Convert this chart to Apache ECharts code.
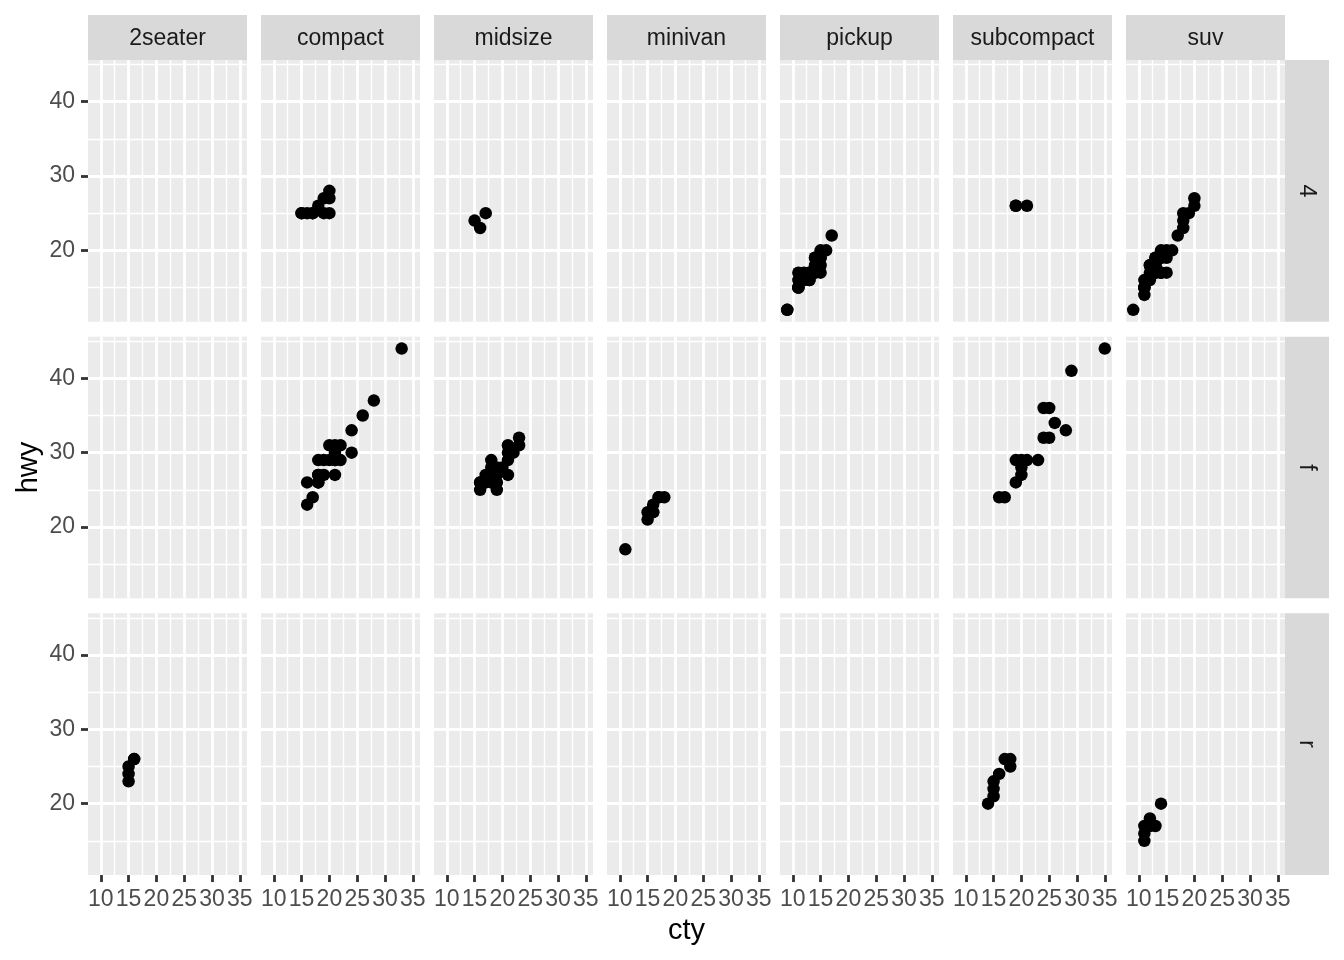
<!DOCTYPE html>
<html>
<head>
<meta charset="utf-8">
<script src="https://cdn.jsdelivr.net/npm/echarts@6.0.0/dist/echarts.min.js"></script>
<style>
html, body { margin: 0; padding: 0; background: #fff; }
#chart { width: 1344px; height: 960px; }
</style>
</head>
<body>
<div id="chart"></div>
<script>
// facets
const classes = ['2seater', 'compact', 'midsize', 'minivan', 'pickup', 'subcompact', 'suv'];
const drvs = ['4', 'f', 'r'];

// ticks
const xTicks = [10, 15, 20, 25, 30, 35];
const xMinor = [12.5, 17.5, 22.5, 27.5, 32.5];
const yTicks = [20, 30, 40];
const yMinor = [15, 25, 35, 45];

// [cty, hwy] for each panel
const compact4 = [[18, 26], [16, 25], [20, 28], [19, 27], [15, 25], [17, 25], [17, 25], [15, 25], [19, 25], [20, 27], [20, 25]];
const midsize4 = [[15, 24], [17, 25], [16, 23]];
const pickup4 = [[15, 19], [14, 18], [13, 17], [14, 17], [14, 19], [14, 19], [9, 12], [11, 17], [11, 15], [11, 15],
  [13, 17], [12, 16], [9, 12], [13, 17], [12, 16], [11, 15], [11, 16], [13, 16], [14, 17], [13, 16], [15, 20],
  [16, 20], [15, 19], [17, 22], [15, 17], [15, 18], [12, 17]];
const subcompact4 = [[21, 26], [19, 26], [19, 26]];
const suv4 = [[14, 19], [11, 14], [11, 15], [14, 17], [13, 17], [12, 16], [11, 15], [13, 18], [12, 17], [9, 12],
  [13, 17], [14, 17], [13, 19], [13, 19], [13, 17], [15, 20], [14, 19], [13, 18], [11, 15], [12, 18], [14, 17],
  [15, 17], [14, 20], [12, 18], [18, 25], [18, 24], [20, 27], [19, 25], [20, 26], [18, 23], [17, 22], [16, 20],
  [15, 19], [11, 16]];
const compactF = [[18, 29], [21, 29], [20, 31], [21, 30], [16, 26], [18, 26], [18, 27], [21, 29], [21, 27], [21, 31],
  [22, 31], [18, 26], [18, 27], [24, 30], [24, 33], [26, 35], [28, 37], [19, 29], [22, 29], [17, 24], [33, 44],
  [16, 23], [19, 27], [20, 29]];
const midsizeF = [[19, 27], [22, 30], [18, 26], [18, 29], [17, 26], [18, 27], [21, 30], [21, 31], [19, 28], [21, 29],
  [23, 31], [23, 32], [19, 26], [19, 25], [16, 26], [17, 27], [18, 28], [16, 25], [21, 27], [20, 28], [16, 26]];
const minivanF = [[18, 24], [17, 24], [16, 22], [16, 22], [17, 24], [11, 17], [15, 22], [15, 21], [16, 23]];
const subcompactF = [[35, 44], [29, 41], [25, 36], [24, 36], [26, 34], [28, 33], [24, 32], [25, 32], [23, 29],
  [21, 29], [20, 29], [19, 29], [20, 28], [20, 27], [19, 26], [16, 24], [17, 24]];
const twoseaterR = [[16, 26], [15, 23], [16, 26], [15, 25], [15, 24]];
const subcompactR = [[18, 26], [18, 25], [17, 26], [16, 24], [15, 21], [15, 22], [15, 23], [14, 20]];
const suvR = [[14, 20], [11, 15], [13, 17], [12, 17], [11, 17], [12, 18], [11, 16]];

const panelData = {
  'compact|4': compact4, 'midsize|4': midsize4, 'pickup|4': pickup4, 'subcompact|4': subcompact4, 'suv|4': suv4,
  'compact|f': compactF, 'midsize|f': midsizeF, 'minivan|f': minivanF, 'subcompact|f': subcompactF,
  '2seater|r': twoseaterR, 'subcompact|r': subcompactR, 'suv|r': suvR
};

// shared scales, 5% expansion like ggplot
const allPts = Object.values(panelData).flat();
const expand = (vals) => {
  const lo = Math.min(...vals), hi = Math.max(...vals), pad = (hi - lo) * 0.05;
  return [lo - pad, hi + pad];
};
const xLim = expand(allPts.map(p => p[0]));
const yLim = expand(allPts.map(p => p[1]));

// layout
const LEFT = 88, STEP_X = 173, W = 159;
const TOP = 60, STEP_Y = 276.67, H = 261.7;
const FONT = '"Liberation Sans", Arial, Helvetica, sans-serif';
const MAJOR = 2.8, MINOR = 1.4;

const grids = [], xAxes = [], yAxes = [], series = [], graphics = [];

drvs.forEach((drv, r) => {
  classes.forEach((cls, c) => {
    const gi = grids.length;
    const left = LEFT + c * STEP_X, top = TOP + r * STEP_Y;
    const bottomRow = r === drvs.length - 1, firstCol = c === 0;
    grids.push({ left: left, top: top, width: W, height: H, show: true, backgroundColor: '#EBEBEB', borderWidth: 0 });

    // minor gridlines
    xAxes.push({
      type: 'value', gridIndex: gi, min: xLim[0], max: xLim[1], position: 'bottom',
      axisLine: { show: false }, axisTick: { show: false, customValues: xMinor }, axisLabel: { show: false },
      splitLine: { show: true, lineStyle: { color: '#fff', width: MINOR } }
    });
    yAxes.push({
      type: 'value', gridIndex: gi, min: yLim[0], max: yLim[1], position: 'left',
      axisLine: { show: false }, axisTick: { show: false, customValues: yMinor }, axisLabel: { show: false },
      splitLine: { show: true, lineStyle: { color: '#fff', width: MINOR } }
    });
    // major gridlines + ticks/labels
    const xi = xAxes.length;
    xAxes.push({
      type: 'value', gridIndex: gi, min: xLim[0], max: xLim[1], position: 'bottom',
      axisLine: { show: false },
      axisTick: { show: bottomRow, customValues: xTicks, length: 7, lineStyle: { color: '#333333', width: MAJOR } },
      axisLabel: { show: bottomRow, customValues: xTicks, margin: 13, color: '#4D4D4D', fontSize: 23, fontFamily: FONT },
      splitLine: { show: true, lineStyle: { color: '#fff', width: MAJOR } }
    });
    const yi = yAxes.length;
    yAxes.push({
      type: 'value', gridIndex: gi, min: yLim[0], max: yLim[1], position: 'left',
      axisLine: { show: false },
      axisTick: { show: firstCol, customValues: yTicks, length: 7, lineStyle: { color: '#333333', width: MAJOR } },
      axisLabel: { show: firstCol, customValues: yTicks, margin: 13, color: '#4D4D4D', fontSize: 23, fontFamily: FONT },
      splitLine: { show: true, lineStyle: { color: '#fff', width: MAJOR } }
    });

    series.push({
      type: 'scatter', xAxisIndex: xi, yAxisIndex: yi,
      data: panelData[cls + '|' + drv] || [],
      symbol: 'circle', symbolSize: 12.5,
      itemStyle: { color: '#000', opacity: 1 },
      silent: true
    });
  });
});

// top strips
classes.forEach((cls, c) => {
  const left = LEFT + c * STEP_X;
  graphics.push({ type: 'rect', shape: { x: left, y: 15, width: W, height: TOP - 15 }, style: { fill: '#D9D9D9' } });
  graphics.push({
    type: 'text', x: left + W / 2, y: 39,
    style: { text: cls, fill: '#1A1A1A', font: '23px ' + FONT, textAlign: 'center', textVerticalAlign: 'middle' }
  });
});
// right strips
const stripX = LEFT + (classes.length - 1) * STEP_X + W;
drvs.forEach((drv, r) => {
  const top = TOP + r * STEP_Y;
  graphics.push({ type: 'rect', shape: { x: stripX, y: top, width: 44, height: H }, style: { fill: '#D9D9D9' } });
  graphics.push({
    type: 'text', x: stripX + 21, y: top + H / 2, rotation: -Math.PI / 2,
    style: { text: drv, fill: '#1A1A1A', font: '23px ' + FONT, textAlign: 'center', textVerticalAlign: 'middle' }
  });
});
// axis titles
graphics.push({
  type: 'text', x: (LEFT + stripX) / 2, y: 931,
  style: { text: 'cty', fill: '#000', font: '29px ' + FONT, textAlign: 'center', textVerticalAlign: 'middle' }
});
graphics.push({
  type: 'text', x: 29, y: TOP + (2 * STEP_Y + H) / 2, rotation: Math.PI / 2,
  style: { text: 'hwy', fill: '#000', font: '29px ' + FONT, textAlign: 'center', textVerticalAlign: 'middle' }
});

const myChart = echarts.init(document.getElementById('chart'), null, { renderer: 'canvas' });
myChart.setOption({
  backgroundColor: '#fff',
  animation: false,
  grid: grids,
  xAxis: xAxes,
  yAxis: yAxes,
  series: series,
  graphic: graphics
});
</script>
</body>
</html>
